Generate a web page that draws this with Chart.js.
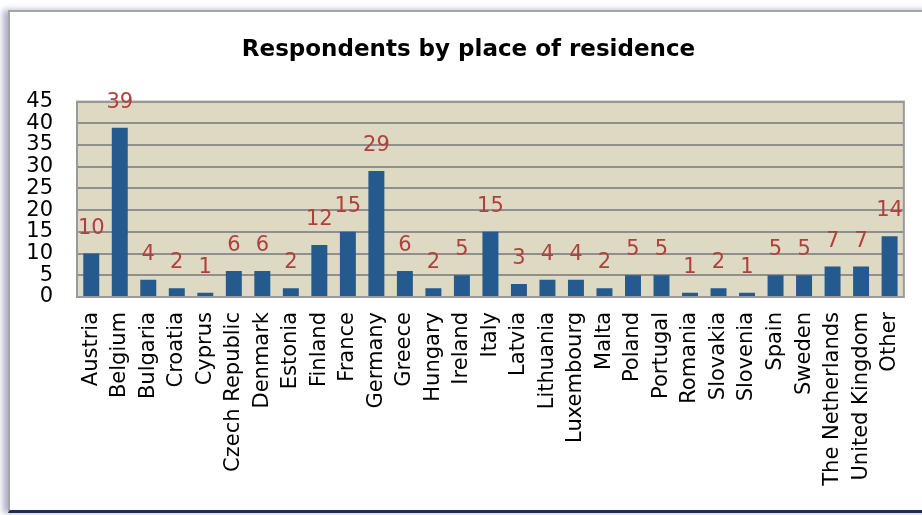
<!DOCTYPE html>
<html>
<head>
<meta charset="utf-8">
<script src="https://cdn.jsdelivr.net/npm/chart.js@4.4.0/dist/chart.umd.min.js"></script>
<style>
  html, body { margin: 0; padding: 0; background: #fff; overflow: hidden; }
  #frame {
    position: absolute; left: 8px; top: 10px; width: 930px; height: 498px;
    border-left: 2px solid #a6a6a6; border-top: 2px solid #a6a6a6;
    border-bottom: 3px solid #1c2f57;
    box-shadow: -5px 0 6px rgba(70, 85, 140, 0.45);
    background: #fff;
  }
  #chart { position: absolute; left: 0; top: 0; }
</style>
</head>
<body>
<div id="frame"></div>
<canvas id="chart" width="922" height="515"></canvas>
<script>
let categories = [
   'Austria', 'Belgium', 'Bulgaria', 'Croatia', 'Cyprus', 'Czech Republic', 'Denmark',
   'Estonia', 'Finland', 'France', 'Germany', 'Greece', 'Hungary', 'Ireland', 'Italy',
   'Latvia', 'Lithuania', 'Luxembourg', 'Malta', 'Poland', 'Portugal', 'Romania',
   'Slovakia', 'Slovenia', 'Spain', 'Sweden', 'The Netherlands', 'United Kingdom', 'Other'
]

let respondents = [
   10, 39, 4, 2, 1, 6, 6, 2, 12, 15, 29, 6, 2, 5, 15,
   3, 4, 4, 2, 5, 5, 1, 2, 1, 5, 5, 7, 7, 14
]

let yMax = 45
let yStep = 5

// beige plot area with a grey outline
const plotArea = {
   id: 'plotArea',
   beforeDraw(chart) {
      const {ctx, chartArea: a} = chart
      ctx.save()
      ctx.fillStyle = '#ddd9c3'
      ctx.fillRect(a.left, a.top, a.right - a.left, a.bottom - a.top)
      ctx.restore()
   },
   afterDatasetsDraw(chart) {
      const {ctx, chartArea: a} = chart
      ctx.save()
      ctx.strokeStyle = '#9a9a9a'
      ctx.lineWidth = 2
      ctx.strokeRect(a.left, a.top, a.right - a.left, a.bottom - a.top)
      ctx.restore()
   }
}

// value labels above the bars
const barLabels = {
   id: 'barLabels',
   afterDatasetsDraw(chart) {
      const {ctx} = chart
      const meta = chart.getDatasetMeta(0)
      ctx.save()
      ctx.font = '21px "DejaVu Sans"'
      ctx.fillStyle = '#b0403c'
      ctx.textAlign = 'center'
      ctx.textBaseline = 'alphabetic'
      meta.data.forEach((bar, i) => {
         ctx.fillText(String(respondents[i]), bar.x, bar.y - 20)
      })
      ctx.restore()
   }
}

let chart = new Chart(document.getElementById('chart'), {
   type: 'bar',
   data: {
      labels: categories,
      datasets: [{
         data: respondents,
         backgroundColor: '#245a8e',
         borderWidth: 0,
         barPercentage: 0.56,
         categoryPercentage: 1
      }]
   },
   options: {
      responsive: false,
      animation: false,
      devicePixelRatio: 1,
      layout: {padding: {left: 27, right: 12, top: 0, bottom: 18}},
      plugins: {
         legend: {display: false},
         tooltip: {enabled: false},
         title: {
            display: true,
            text: 'Respondents by place of residence',
            color: '#000',
            font: {family: '"DejaVu Sans"', size: 23, weight: 'bold'},
            padding: {top: 36, bottom: 38}
         }
      },
      scales: {
         x: {
            grid: {display: false},
            border: {display: true, color: '#9a9a9a', width: 2},
            ticks: {
               color: '#000',
               font: {family: '"DejaVu Sans"', size: 21},
               minRotation: 90, maxRotation: 90,
               autoSkip: false,
               padding: 7
            },
            afterFit: s => { s.height = 200 }
         },
         y: {
            min: 0, max: yMax,
            grid: {color: '#8f8f8f', lineWidth: 2, drawTicks: false},
            border: {display: true, color: '#9a9a9a', width: 2},
            ticks: {
               stepSize: yStep,
               autoSkip: false,
               color: '#000',
               font: {family: '"DejaVu Sans"', size: 21, lineHeight: 1},
               padding: 24
            },
            afterFit: s => { s.width = 50 }
         }
      }
   },
   plugins: [plotArea, barLabels]
})
</script>
</body>
</html>
